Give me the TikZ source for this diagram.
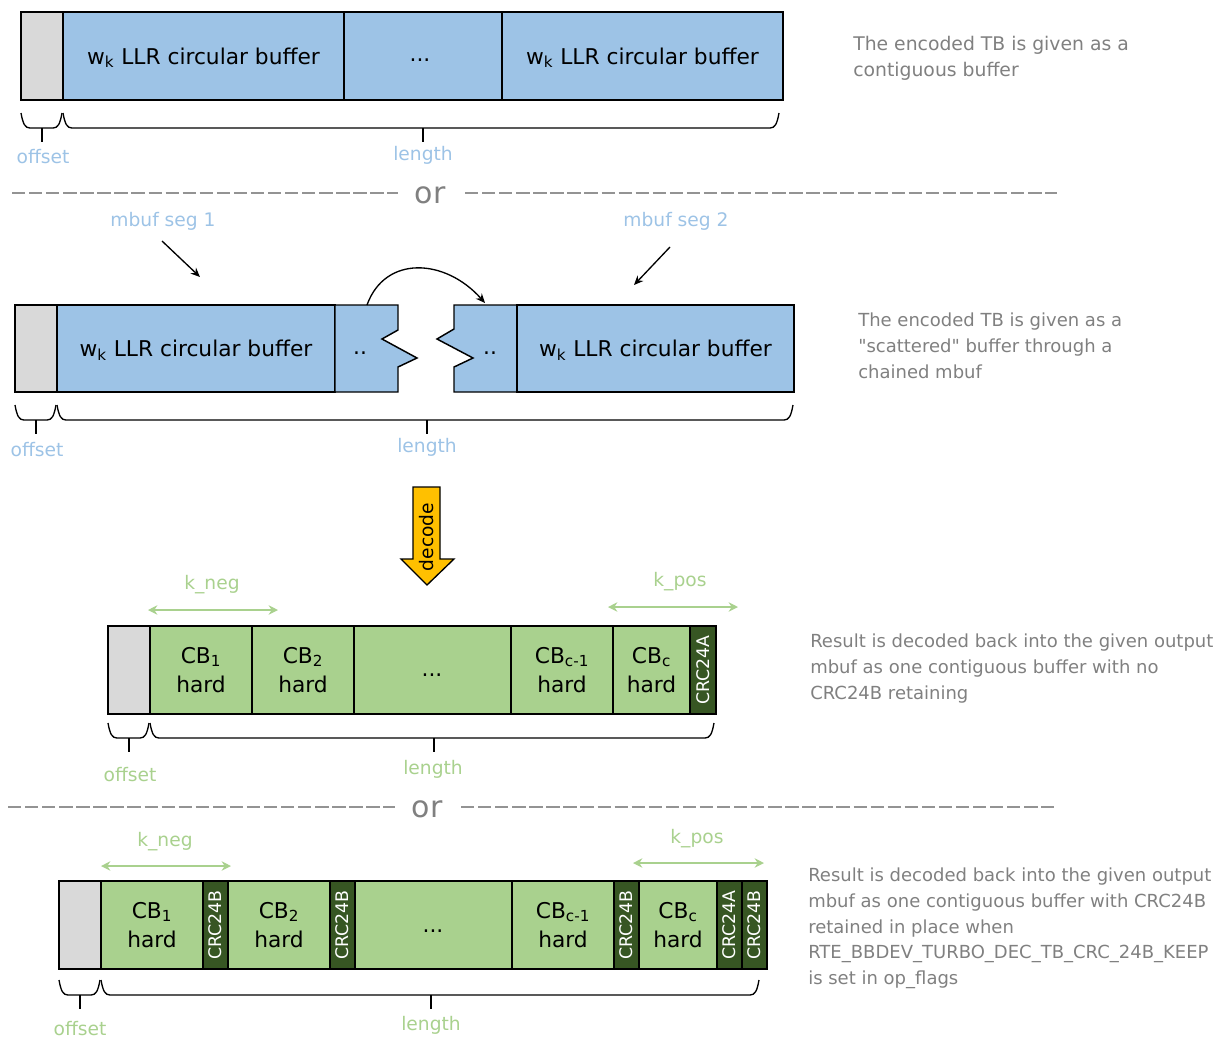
\documentclass[tikz,border=0pt]{standalone}
\usepackage{fontspec}
\setmainfont{DejaVu Sans}
\usetikzlibrary{arrows.meta}
\definecolor{bfill}{HTML}{9DC3E6}
\definecolor{gfill}{HTML}{D9D9D9}
\definecolor{grn}{HTML}{A9D18E}
\definecolor{dgrn}{HTML}{375623}
\definecolor{txtg}{HTML}{808080}
\definecolor{yel}{HTML}{FFC000}
\tikzset{
  bx/.style={draw=black,line width=1.1pt},
  celltext/.style={align=center,font=\fontsize{16.3}{21.75}\selectfont,inner sep=0pt},
  onetext/.style={celltext,yshift=-1.2pt},
  crctext/.style={rotate=90,text=white,font=\fontsize{13}{15}\selectfont,inner sep=0pt},
  lbl/.style={font=\fontsize{14}{17}\selectfont,inner sep=0pt},
  bluelbl/.style={lbl,text=bfill},
  grnlbl/.style={lbl,text=grn},
  note/.style={lbl,text=txtg,align=left,anchor=north west,font=\fontsize{14.1}{19.5}\selectfont},
  notesm/.style={note,font=\fontsize{13.5}{19.2}\selectfont},
  brace/.style={draw=black,line width=1pt},
  orline/.style={draw=txtg!85,line width=1.1pt,dash pattern=on 10pt off 2.8pt},
  ortext/.style={text=txtg,font=\fontsize{22.5}{26}\selectfont,inner sep=0pt},
  arr/.style={draw=black,line width=1pt,-{Stealth[length=7pt,width=6pt]}},
  karr/.style={draw=grn,line width=1.2pt,{Stealth[length=7pt,width=7pt]}-{Stealth[length=7pt,width=7pt]}},
}
\newcommand\cellnode[8]{%
  \draw[bx,fill=#6] (#2,#3) rectangle (#4,#5);
  \node[#8] (#1) at ({(#2+#4)/2},{(#3+#5)/2}) {#7};}
\newcommand\crcnode[6]{%
  \draw[bx,fill=dgrn] (#2,#3) rectangle (#4,#5);
  \node[crctext] (#1) at ({(#2+#4)/2},{(#3+#5)/2}) {#6};}
\newcommand\brc[4]{%
  \draw[brace] (#1,#3) .. controls ({#1+2},{#3+11}) and ({#1+4},{#3+15}) .. ({#1+9},{#3+15}) -- ({#2-9},{#3+15}) .. controls ({#2-4},{#3+15}) and ({#2-2},{#3+11}) .. (#2,#3);
  \draw[brace] (#4,{#3+15}) -- (#4,{#3+29});}
\begin{document}
\begin{tikzpicture}[x=0.75pt,y=-0.75pt]
\useasboundingbox (0,0) rectangle (1224,1039);

% ---------- Row 1 ----------
\cellnode{r1o}{21}{12}{63}{100}{gfill}{}{onetext}
\cellnode{r1a}{63}{12}{344}{100}{bfill}{w\textsubscript{k} LLR circular buffer}{onetext}
\draw[bx,fill=bfill] (344,12) rectangle (502,100);
\node[celltext] (r1b) at (420,60) {...};
\cellnode{r1c}{502}{12}{783}{100}{bfill}{w\textsubscript{k} LLR circular buffer}{onetext}
\brc{21}{62}{113}{42}
\brc{63}{779}{113}{423}
\node[bluelbl] (r1off) at (43,157) {offset};
\node[bluelbl] (r1len) at (423,155) {length};
\node[note] (n1) at (853,36) {The encoded TB is given as a\\contiguous buffer};

% ---------- or 1 ----------
\node[ortext] (or1) at (430,195) {or};
\draw[orline] (12,193) -- (398,193);
\draw[orline] (465,193) -- (1057,193);

% ---------- Row 2 ----------
\node[bluelbl] (seg1) at (163,221) {mbuf seg 1};
\node[bluelbl] (seg2) at (676,221) {mbuf seg 2};
\coordinate (s1a) at (162,241); \coordinate (s1b) at (200,277);
\coordinate (s2a) at (670,247); \coordinate (s2b) at (634,285);
\draw[arr] (s1a) -- (s1b);
\draw[arr] (s2a) -- (s2b);
\cellnode{r2o}{15}{305}{57}{392}{gfill}{}{onetext}
\cellnode{r2a}{57}{305}{335}{392}{bfill}{w\textsubscript{k} LLR circular buffer}{onetext}
\draw[bx,fill=bfill] (335,305) -- (398,305) -- (398,330) -- (382,339) -- (417,358) -- (398,367) -- (398,392) -- (335,392) -- cycle;
\node[celltext] (r2b) at (360,353) {..};
\draw[bx,fill=bfill] (454,305) -- (517,305) -- (517,392) -- (454,392) -- (454,367) -- (473,358) -- (437,339) -- (454,329) -- cycle;
\node[celltext] (r2c) at (490,353) {..};
\cellnode{r2d}{517}{305}{794}{392}{bfill}{w\textsubscript{k} LLR circular buffer}{onetext}
\coordinate (ca) at (367,305); \coordinate (cb) at (485,303);
\draw[arr] (ca) .. controls (385,255) and (445,258) .. (cb);
\brc{15}{56}{405}{36}
\brc{57}{793}{405}{427}
\node[bluelbl] (r2off) at (37,450) {offset};
\node[bluelbl] (r2len) at (427,447) {length};
\node[notesm] (n2) at (858,313) {The encoded TB is given as a\\\textquotedbl scattered\textquotedbl{} buffer through a\\chained mbuf};

% ---------- decode arrow ----------
\draw[black,line width=1pt,fill=yel] (413,487) -- (440,487) -- (440,559) -- (454,559) -- (427,585) -- (401,559) -- (413,559) -- cycle;
\node[lbl,rotate=90] (dec) at (427,537) {decode};

% ---------- Row 3 ----------
\node[grnlbl] (kn1) at (212,585) {k\_neg};
\node[grnlbl] (kp1) at (680,582) {k\_pos};
\coordinate (kn1a) at (148,610); \coordinate (kn1b) at (278,610);
\coordinate (kp1a) at (608,607); \coordinate (kp1b) at (738,607);
\draw[karr] (kn1a) -- (kn1b);
\draw[karr] (kp1a) -- (kp1b);
\cellnode{r3o}{108}{626}{150}{714}{gfill}{}{onetext}
\cellnode{r3a}{150}{626}{252}{714}{grn}{CB\textsubscript{1}\\hard}{celltext}
\cellnode{r3b}{252}{626}{354}{714}{grn}{CB\textsubscript{2}\\hard}{celltext}
\draw[bx,fill=grn] (354,626) rectangle (511,714);
\node[celltext] (r3c) at (432,675) {...};
\cellnode{r3d}{511}{626}{613}{714}{grn}{CB\textsubscript{c-1}\\hard}{celltext}
\cellnode{r3e}{613}{626}{690}{714}{grn}{CB\textsubscript{c}\\hard}{celltext}
\crcnode{r3f}{690}{626}{716}{714}{CRC24A}
\brc{108}{149}{723}{129}
\brc{150}{714}{723}{434}
\node[grnlbl] (r3off) at (130,775) {offset};
\node[grnlbl] (r3len) at (433,769) {length};
\node[notesm] (n3) at (810,634) {Result is decoded back into the given output\\mbuf as one contiguous buffer with no\\CRC24B retaining};

% ---------- or 2 ----------
\node[ortext] (or2) at (427,809) {or};
\draw[orline] (8,807) -- (395,807);
\draw[orline] (461,807) -- (1054,807);

% ---------- Row 4 ----------
\node[grnlbl] (kn2) at (165,842) {k\_neg};
\node[grnlbl] (kp2) at (697,839) {k\_pos};
\coordinate (kn2a) at (101,866); \coordinate (kn2b) at (231,866);
\coordinate (kp2a) at (633,863); \coordinate (kp2b) at (764,863);
\draw[karr] (kn2a) -- (kn2b);
\draw[karr] (kp2a) -- (kp2b);
\cellnode{r4o}{59}{881}{101}{969}{gfill}{}{onetext}
\cellnode{r4a}{101}{881}{203}{969}{grn}{CB\textsubscript{1}\\hard}{celltext}
\crcnode{r4b}{203}{881}{228}{969}{CRC24B}
\cellnode{r4c}{228}{881}{330}{969}{grn}{CB\textsubscript{2}\\hard}{celltext}
\crcnode{r4d}{330}{881}{355}{969}{CRC24B}
\draw[bx,fill=grn] (355,881) rectangle (512,969);
\node[celltext] (r4e) at (433,931) {...};
\cellnode{r4f}{512}{881}{614}{969}{grn}{CB\textsubscript{c-1}\\hard}{celltext}
\crcnode{r4g}{614}{881}{639}{969}{CRC24B}
\cellnode{r4h}{639}{881}{717}{969}{grn}{CB\textsubscript{c}\\hard}{celltext}
\crcnode{r4i}{717}{881}{742}{969}{CRC24A}
\crcnode{r4j}{742}{881}{767}{969}{CRC24B}
\brc{59}{100}{980}{80}
\brc{101}{759}{980}{431}
\node[grnlbl] (r4off) at (80,1029) {offset};
\node[grnlbl] (r4len) at (431,1025) {length};
\node[notesm] (n4) at (808,868) {Result is decoded back into the given output\\mbuf as one contiguous buffer with CRC24B\\retained in place when\\RTE\_BBDEV\_TURBO\_DEC\_TB\_CRC\_24B\_KEEP\\is set in op\_flags};
\end{tikzpicture}
\end{document}
